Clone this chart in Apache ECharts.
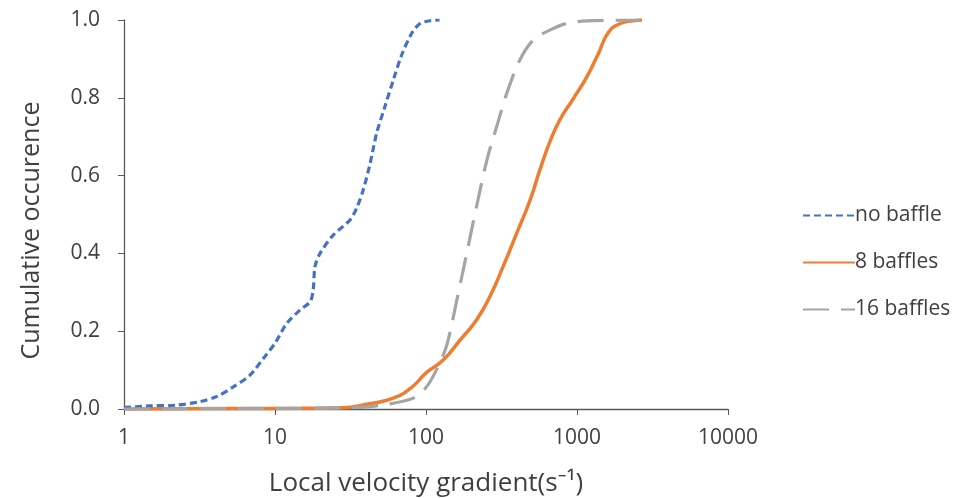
<!DOCTYPE html>
<html><head><meta charset="utf-8">
<script src="https://cdn.jsdelivr.net/npm/echarts@6/dist/echarts.min.js"></script>
<style>html,body{margin:0;padding:0;background:#fff}#c{width:955px;height:498px}</style>
</head><body><div id="c"></div>
<script>
const seriesNames = ['no baffle', '8 baffles', '16 baffles'];
const xTickLabels = ['1', '10', '100', '1000', '10000'];
const yTickLabels = ['0.0', '0.2', '0.4', '0.6', '0.8', '1.0'];

const noBaffleX = [1.0, 1.49, 2.23, 3.19, 4.11, 5.30, 6.83, 8.37, 10, 11.96, 14.6, 17.1, 17.9, 18.4, 19.87, 24.3, 31.4, 34.7, 38.4, 42.7, 47.1, 53.4, 60.8, 69.0, 80.5, 91.3, 106, 123];
const noBaffleY = [0.004, 0.008, 0.01, 0.019, 0.032, 0.057, 0.087, 0.13, 0.169, 0.22, 0.254, 0.276, 0.306, 0.366, 0.40, 0.447, 0.486, 0.516, 0.563, 0.632, 0.709, 0.777, 0.846, 0.91, 0.966, 0.991, 0.998, 1.0];

const b8X = [1.0, 5, 15, 28.3, 40.4, 60.8, 80, 101, 130, 168, 216, 265, 324, 399, 489, 567, 660, 769, 943, 1162, 1387, 1613, 1935, 2350, 2698];
const b8Y = [0.0, 0.001, 0.002, 0.003, 0.012, 0.028, 0.055, 0.094, 0.126, 0.177, 0.229, 0.289, 0.366, 0.452, 0.537, 0.614, 0.686, 0.743, 0.797, 0.854, 0.914, 0.968, 0.991, 0.998, 1.0];

const b16X = [1.0, 5, 15, 36.6, 55, 82.5, 100, 117, 137, 160, 186, 216, 253, 294, 343, 418, 514, 660, 852, 1162, 2634];
const b16Y = [0.0, 0.001, 0.002, 0.004, 0.012, 0.028, 0.055, 0.1, 0.163, 0.28, 0.40, 0.52, 0.64, 0.726, 0.812, 0.897, 0.949, 0.974, 0.991, 0.998, 1.0];

const pairs = (xs, ys) => xs.map((x, i) => [x, ys[i]]);
const font = '"Open Sans", "Noto Sans", sans-serif';
const chart = echarts.init(document.getElementById('c'));
chart.setOption({
  animation: false,
  backgroundColor: '#fff',
  grid: { left: 124, right: 227, top: 20, bottom: 89, containLabel: false, outerBoundsMode: 'none' },
  legend: {
    orient: 'vertical', left: 797, top: 200, itemWidth: 52, itemHeight: 14, itemGap: 26,
    itemStyle: { opacity: 0 },
    textStyle: { fontFamily: font, fontSize: 21, color: '#404040', padding: [0, 0, 0, -5] },
    data: seriesNames
  },
  xAxis: {
    type: 'log', logBase: 10, min: 1, max: 10000,
    name: 'Local velocity gradient(s⁻¹)', nameLocation: 'middle', nameGap: 62,
    nameTextStyle: { fontFamily: font, fontSize: 26, color: '#404040' },
    axisLine: { lineStyle: { color: '#595959', width: 1.3 } },
    axisTick: { show: true, length: 6, lineStyle: { color: '#595959' } },
    axisLabel: { fontFamily: font, fontSize: 21, color: '#404040', margin: 19,
      formatter: v => { const i = Math.round(Math.log10(v)); return xTickLabels[i] !== undefined ? xTickLabels[i] : ''; } },
    splitLine: { show: false }, minorTick: { show: false }
  },
  yAxis: {
    type: 'value', min: 0, max: 1, interval: 0.2,
    name: 'Cumulative occurence', nameLocation: 'middle', nameGap: 80,
    nameTextStyle: { fontFamily: font, fontSize: 25, color: '#404040', padding: [0, 32, 0, 0] },
    axisLine: { show: true, lineStyle: { color: '#595959', width: 1.3 } },
    axisTick: { show: true, length: 6, lineStyle: { color: '#595959' } },
    axisLabel: { fontFamily: font, fontSize: 21, color: '#404040', margin: 24,
      formatter: v => yTickLabels[Math.round(v / 0.2)] },
    splitLine: { show: false }
  },
  series: [
    { name: seriesNames[0], type: 'line', data: pairs(noBaffleX, noBaffleY), smooth: 0.3, showSymbol: false, symbol: 'none', z: 3,
      lineStyle: { color: '#4472C4', width: 3.2, type: [7, 4] }, itemStyle: { color: '#4472C4' } },
    { name: seriesNames[1], type: 'line', data: pairs(b8X, b8Y), smooth: 0.5, showSymbol: false, symbol: 'none', z: 2,
      lineStyle: { color: '#ED7D31', width: 3.5 }, itemStyle: { color: '#ED7D31' } },
    { name: seriesNames[2], type: 'line', data: pairs(b16X, b16Y), smooth: 0.3, showSymbol: false, symbol: 'none', z: 4,
      lineStyle: { color: '#A5A5A5', width: 3.2, type: [26, 12] }, itemStyle: { color: '#A5A5A5' } }
  ]
});
</script></body></html>
